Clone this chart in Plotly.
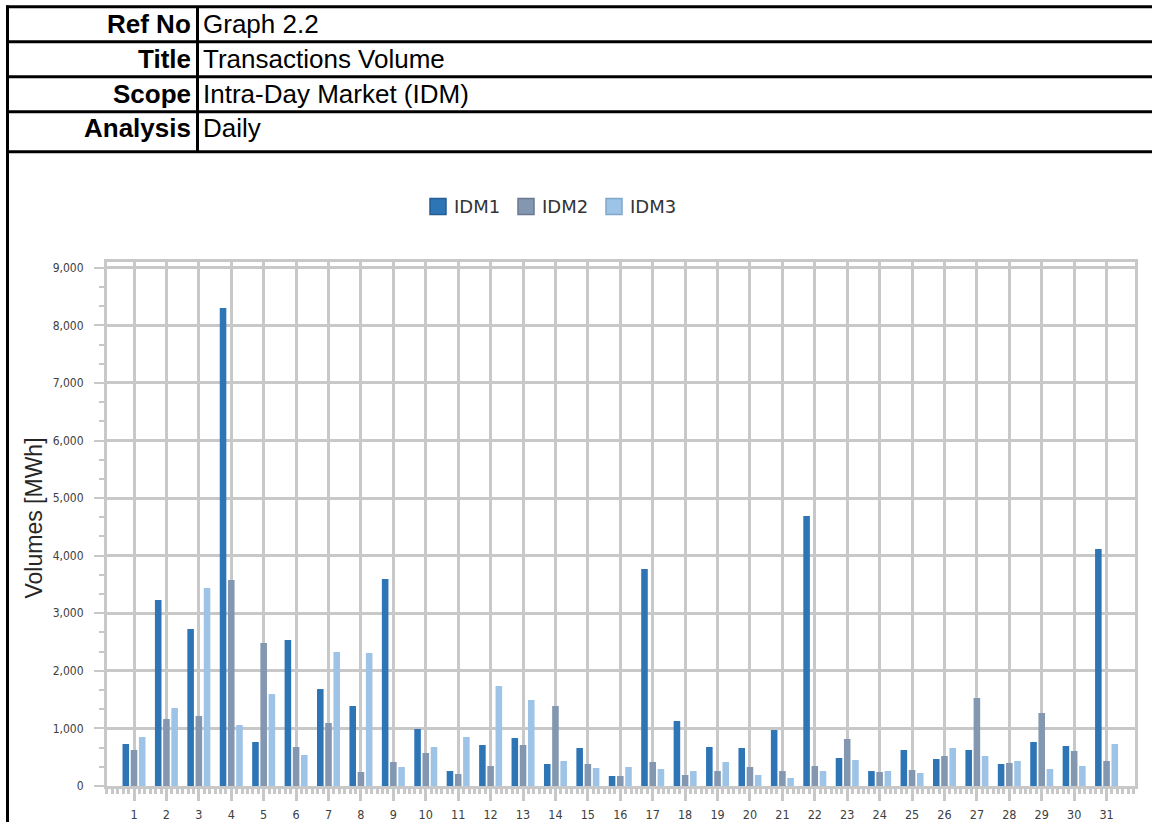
import plotly.graph_objects as go

# ---------------- data ----------------
days = list(range(1, 32))
day_labels = [str(d) for d in days]
idm1 = [729, 3230, 2726, 8300, 764, 2535, 1684, 1389, 3594, 990, 260, 712, 833, 382, 660,
        174, 3768, 1129, 677, 660, 972, 4690, 486, 260, 625, 469, 625, 382, 764, 695, 4115]
idm2 = [625, 1163, 1215, 3577, 2483, 677, 1094, 243, 417, 573, 208, 347, 712, 1389, 382,
        174, 417, 191, 260, 330, 260, 347, 816, 243, 278, 521, 1528, 399, 1268, 608, 434]
idm3 = [851, 1354, 3438, 1059, 1597, 538, 2327, 2309, 330, 677, 851, 1736, 1493, 434, 313,
        330, 295, 260, 417, 191, 139, 260, 451, 260, 226, 660, 521, 434, 295, 347, 729]
series_names = ["IDM1", "IDM2", "IDM3"]
series_colors = ["#2E75B6", "#8497B0", "#9DC3E6"]
series_edges = ["#245E93", "#6A7A90", "#7FA8CC"]

header_labels = ["Ref No", "Title", "Scope", "Analysis"]
header_values = ["Graph 2.2", "Transactions Volume", "Intra-Day Market (IDM)", "Daily"]
y_ticks = [0, 1000, 2000, 3000, 4000, 5000, 6000, 7000, 8000, 9000]
y_title = "Volumes [MWh]"

# ---------------- layout geometry ----------------
W, H = 1152, 822
L, R, T, B = 107, 17, 262, 36
PW, PH = W - L - R, H - T - B


def px(x):
    return (x - L) / PW


def py(y):
    return (H - B - y) / PH


GRID = "#C8C8C8"
TXT = "#404040"
TICKFONT = "DejaVu Sans Condensed, Liberation Sans, Arial"

fig = go.Figure()
for name, vals, col in zip(series_names, [idm1, idm2, idm3], series_colors):
    fig.add_trace(go.Bar(x=days, y=vals, name=name,
                         marker=dict(color=col, line=dict(width=0))))

shapes = []
row_lines = [6.7, 41.7, 76.7, 111.7, 151.7]
for yl in row_lines:
    shapes.append(dict(type="line", xref="paper", yref="paper",
                       x0=px(6), x1=px(1160), y0=py(yl), y1=py(yl),
                       line=dict(color="black", width=3)))
shapes.append(dict(type="line", xref="paper", yref="paper",
                   x0=px(7.5), x1=px(7.5), y0=py(5.5), y1=py(830),
                   line=dict(color="black", width=3)))
shapes.append(dict(type="line", xref="paper", yref="paper",
                   x0=px(197.5), x1=px(197.5), y0=py(6.7), y1=py(151.7),
                   line=dict(color="black", width=3)))

annotations = []
row_centers = [24, 59, 94, 128.5]
for lab, val, yc in zip(header_labels, header_values, row_centers):
    annotations.append(dict(xref="paper", yref="paper", x=px(193), y=py(yc),
                            xanchor="right", yanchor="middle", showarrow=False,
                            text="<b>" + lab + "</b>",
                            font=dict(family="Liberation Sans, Arial", size=26, color="black")))
    annotations.append(dict(xref="paper", yref="paper", x=px(201), y=py(yc),
                            xanchor="left", yanchor="middle", showarrow=False,
                            text=val,
                            font=dict(family="Liberation Sans, Arial", size=26, color="black")))

# y-axis title placed exactly
annotations.append(dict(xref="paper", yref="paper", x=px(33), y=py(518.5),
                        xanchor="center", yanchor="middle", showarrow=False,
                        text=y_title, textangle=-90,
                        font=dict(family="Liberation Sans, Arial", size=23, color="#262626")))

# custom legend (16px squares like the reference)
leg_sq_x = [430, 518, 606]
leg_y0, leg_y1 = 198.5, 214.5
for name, col, edge, x0 in zip(series_names, series_colors, series_edges, leg_sq_x):
    shapes.append(dict(type="rect", xref="paper", yref="paper",
                       x0=px(x0), x1=px(x0 + 16), y0=py(leg_y1), y1=py(leg_y0),
                       fillcolor=col, line=dict(color=edge, width=1.5)))
    annotations.append(dict(xref="paper", yref="paper", x=px(x0 + 22), y=py(206.5),
                            xanchor="left", yanchor="middle", showarrow=False, text=name,
                            font=dict(family="DejaVu Sans", size=18, color="#333333")))

fig.update_layout(
    width=W, height=H,
    margin=dict(l=L, r=R, t=T, b=B, autoexpand=False),
    paper_bgcolor="white", plot_bgcolor="white",
    barmode="group", bargap=0.24, bargroupgap=0.2,
    shapes=shapes, annotations=annotations,
    showlegend=False,
)

fig.update_xaxes(
    range=[0.167, 31.877], tickmode="array", tickvals=days, ticktext=day_labels,
    showgrid=True, gridcolor=GRID, gridwidth=2.5,
    showline=True, linecolor=GRID, linewidth=3, mirror=True,
    ticks="outside", ticklen=12, tickwidth=3, tickcolor=GRID,
    ticklabelstandoff=3,
    tickfont=dict(family=TICKFONT, size=12.5, color=TXT),
    minor=dict(tickmode="linear", tick0=1, dtick=1 / 6, ticks="outside",
               ticklen=5, tickwidth=2.5, tickcolor=GRID, showgrid=False),
    zeroline=False, fixedrange=True,
)
fig.update_yaxes(
    range=[0, 9100], tickmode="array", tickvals=y_ticks,
    tickformat=",d",
    showgrid=True, gridcolor=GRID, gridwidth=2.5,
    showline=True, linecolor=GRID, linewidth=3, mirror=True,
    ticks="outside", ticklen=10, tickwidth=2, tickcolor=GRID,
    ticklabelstandoff=8,
    tickfont=dict(family=TICKFONT, size=12, color=TXT),
    minor=dict(tickmode="linear", tick0=0, dtick=1000 / 3, ticks="outside",
               ticklen=5, tickwidth=2, tickcolor=GRID, showgrid=False),
    zeroline=False, fixedrange=True,
)

fig.write_html("out.html", config={"displayModeBar": False},
               post_script="document.body.style.margin='0px';")
